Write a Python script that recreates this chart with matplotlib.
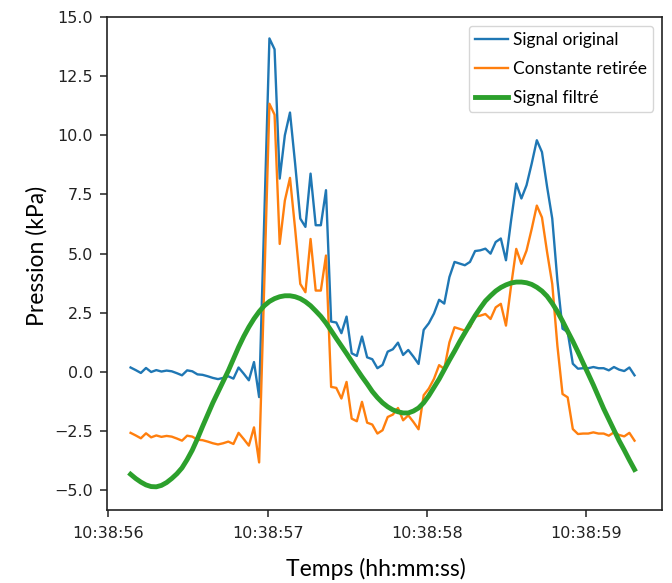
import numpy as np
import matplotlib
matplotlib.use("Agg")
import matplotlib.pyplot as plt
from matplotlib.ticker import FixedLocator, FuncFormatter

# ---- data ----
t_debut = 56.139      # seconds after 10:38:00
t_fin = 59.303
n_points = 99

signal_original = [
    0.19, 0.08, -0.04, 0.17, 0.00, 0.08, 0.02, 0.06, 0.03, -0.05,
    -0.14, 0.07, 0.03, -0.10, -0.12, -0.18, -0.25, -0.30, -0.25, -0.18,
    -0.28, 0.19, -0.07, -0.35, 0.42, -1.06, 6.50, 14.09, 13.63, 8.17,
    10.00, 10.96, 8.80, 6.48, 6.13, 8.38, 6.20, 6.20, 7.68, 2.13,
    2.09, 1.64, 2.34, 0.79, 0.68, 1.50, 0.62, 0.54, 0.16, 0.30,
    0.86, 0.96, 1.24, 0.72, 0.93, 0.65, 0.34, 1.78, 2.06, 2.47,
    3.05, 2.89, 4.01, 4.65, 4.58, 4.51, 4.65, 5.11, 5.14, 5.21,
    5.00, 5.49, 5.64, 4.72, 6.41, 7.96, 7.33, 7.89, 8.80, 9.79,
    9.29, 7.82, 6.48, 3.87, 1.83, 1.69, 0.35, 0.14, 0.16, 0.16,
    0.21, 0.16, 0.16, 0.07, 0.21, 0.10, 0.04, 0.19, -0.14,
]

constante_retiree = [
    -2.57, -2.68, -2.80, -2.59, -2.76, -2.68, -2.74, -2.70, -2.73, -2.81,
    -2.90, -2.69, -2.73, -2.86, -2.88, -2.94, -3.01, -3.06, -3.01, -2.94,
    -3.04, -2.57, -2.83, -3.11, -2.34, -3.82, 3.74, 11.33, 10.87, 5.41,
    7.24, 8.20, 6.04, 3.72, 3.37, 5.62, 3.44, 3.44, 4.92, -0.63,
    -0.67, -1.12, -0.42, -1.97, -2.08, -1.26, -2.14, -2.22, -2.60, -2.46,
    -1.90, -1.80, -1.52, -2.04, -1.83, -2.11, -2.42, -0.98, -0.70, -0.29,
    0.29, 0.13, 1.25, 1.89, 1.82, 1.75, 1.89, 2.35, 2.38, 2.45,
    2.24, 2.73, 2.88, 1.96, 3.65, 5.20, 4.57, 5.13, 6.04, 7.03,
    6.53, 5.06, 3.72, 1.11, -0.93, -1.07, -2.41, -2.62, -2.60, -2.60,
    -2.55, -2.60, -2.60, -2.69, -2.55, -2.66, -2.72, -2.57, -2.90,
]

signal_filtre = [
    -4.32, -4.50, -4.65, -4.77, -4.84, -4.85, -4.79, -4.67, -4.50, -4.30,
    -4.05, -3.70, -3.30, -2.82, -2.30, -1.80, -1.30, -0.85, -0.40, 0.05,
    0.55, 1.05, 1.50, 1.90, 2.25, 2.55, 2.80, 2.98, 3.10, 3.18,
    3.22, 3.22, 3.18, 3.10, 2.97, 2.80, 2.58, 2.35, 2.07, 1.75,
    1.42, 1.10, 0.78, 0.45, 0.12, -0.20, -0.50, -0.82, -1.08, -1.30,
    -1.47, -1.60, -1.68, -1.73, -1.73, -1.65, -1.52, -1.30, -1.00, -0.65,
    -0.30, 0.10, 0.50, 0.88, 1.28, 1.65, 2.02, 2.38, 2.70, 3.00,
    3.22, 3.42, 3.57, 3.68, 3.76, 3.80, 3.80, 3.77, 3.70, 3.58,
    3.42, 3.20, 2.90, 2.55, 2.15, 1.72, 1.30, 0.85, 0.38, -0.08,
    -0.55, -1.05, -1.55, -2.00, -2.45, -2.90, -3.30, -3.72, -4.12,
]

labels = ["Signal original", "Constante retirée", "Signal filtré"]
xticks = [56, 57, 58, 59]
yticks = [-5.0, -2.5, 0.0, 2.5, 5.0, 7.5, 10.0, 12.5, 15.0]

# ---- figure ----
t = np.linspace(t_debut, t_fin, n_points)

fig = plt.figure(figsize=(6.72, 5.83), dpi=100)
ax = fig.add_axes([0.159, 0.126, 0.826, 0.845])

ax.plot(t, signal_original, color="#1f77b4", lw=1.7, label=labels[0])
ax.plot(t, constante_retiree, color="#ff7f0e", lw=1.7, label=labels[1])
ax.plot(t, signal_filtre, color="#2ca02c", lw=3.5, label=labels[2])

ax.set_xlim(55.99, 59.475)
ax.set_ylim(-5.81, 15.0)

ax.xaxis.set_major_locator(FixedLocator(xticks))
ax.xaxis.set_major_formatter(FuncFormatter(lambda v, p: f"10:38:{int(round(v)):02d}"))
ax.yaxis.set_major_locator(FixedLocator(yticks))
ax.yaxis.set_major_formatter(FuncFormatter(lambda v, p: f"{v:.1f}".replace("-", "\u2212")))

ax.tick_params(axis="both", labelsize=11.5, colors="#222222", width=1.1, length=5)
ax.tick_params(axis="x", pad=7)
ax.tick_params(axis="y", pad=5)
for s in ax.spines.values():
    s.set_linewidth(1.2)
    s.set_color("#222222")

leg = ax.legend(loc="upper right", prop={"family": "Lato", "size": 12.5},
                handlelength=1.9, handletextpad=0.3, labelspacing=0.75,
                borderaxespad=0.5, borderpad=0.35, fancybox=True)

fig.text(0.055, 0.561, "Pression (kPa)", rotation=90, ha="center", va="center",
         fontsize=16.5, family="Lato")
fig.text(0.56, 0.024, "Temps (hh:mm:ss)", ha="center", va="center",
         fontsize=16.5, family="Lato")

fig.savefig("out.png", dpi=100)
